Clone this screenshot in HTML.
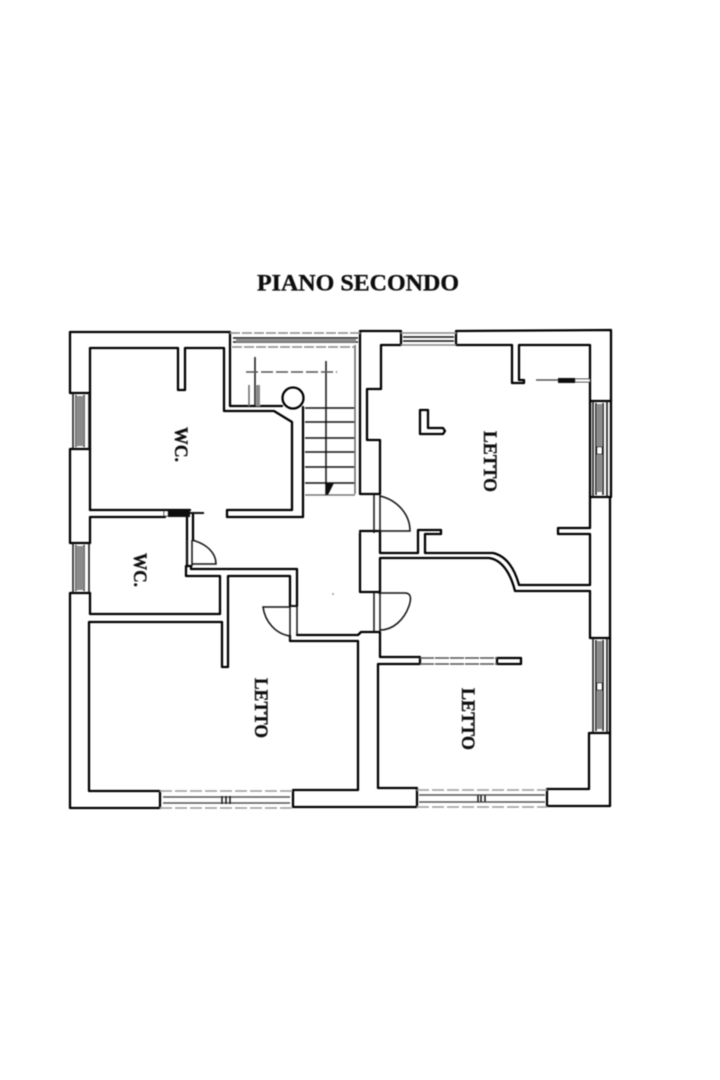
<!DOCTYPE html>
<html><head><meta charset="utf-8"><style>
html,body{margin:0;padding:0;background:#fff}
svg{display:block}
text{font-family:"Liberation Serif",serif;font-weight:bold;fill:#111;stroke:#111;stroke-width:.35}
</style></head><body>
<svg width="720" height="1080" viewBox="0 0 720 1080" xmlns="http://www.w3.org/2000/svg">
<defs><filter id="b" filterUnits="userSpaceOnUse" x="0" y="0" width="720" height="1080"><feGaussianBlur stdDeviation="0.45"/></filter></defs>
<rect width="720" height="1080" fill="#fff"/>
<g filter="url(#b)">
<text x="257" y="290.5" font-size="23" textLength="202" lengthAdjust="spacingAndGlyphs">PIANO SECONDO</text>
<text transform="translate(175,427) rotate(90)" font-size="19" textLength="35" lengthAdjust="spacingAndGlyphs">WC.</text>
<text transform="translate(134,553) rotate(90)" font-size="19" textLength="34" lengthAdjust="spacingAndGlyphs">WC.</text>
<text transform="translate(484,431) rotate(90)" font-size="19" textLength="61" lengthAdjust="spacingAndGlyphs">LETTO</text>
<text transform="translate(255,678) rotate(90)" font-size="19" textLength="60" lengthAdjust="spacingAndGlyphs">LETTO</text>
<text transform="translate(462,688) rotate(90)" font-size="19" textLength="62" lengthAdjust="spacingAndGlyphs">LETTO</text>

<g fill="none" stroke="#000" stroke-width="2.3" stroke-linejoin="round" stroke-linecap="round">
<path d="M90 393H70V332H230V406H282"/>
<path d="M90 449H70V543H90"/>
<path d="M90 593H70V808H160V791H89V622H222V667H228V576H290V606"/>
<path d="M90 510V348H178V390H185V348H224V411H274L292 422V510H227V517H303V407"/>
<circle cx="293" cy="398" r="10.5"/>
<path d="M90 510H190"/>
<path d="M90 543V517H165"/>
<path d="M187 513V566"/>
<path d="M193 513V540"/>
<path d="M90 593V614H220V576H186V566H191V569H297V606"/>
<path d="M297 635H358L361 632H380V657H420V664H378V788H417V807H293V790H358V641H290V636"/>
<path d="M360 533V592H380V558H489C503 560 511 575 515 591H590V638H610V497H590V528H558V534H590V585H519C515 570 507 556 493 553H425V534H441V530H418V553H380V531H360"/>
<path d="M380 494H360V331H401V345H381V389H367V440H380V494"/>
<path d="M590 497V401H611V330L456 331V345H512V383H524V380H519V345H590V401"/>
<path d="M611 401V497"/>
<path d="M420 410H428V428H443L445 431L443 434H420Z"/>
<path d="M590 733H610V806H547V789H589V733"/>
<path d="M610 638V733"/>
<path d="M497 658H521V664H497Z"/>
</g>

<g fill="none" stroke="#111" stroke-width="1.5">
<path d="M192 540C207 544 216 553 216 564H192"/>
<path d="M290 607H263C265 622 276 634 290 636"/>
<path d="M380 496C397 500 410 514 410 531H378"/>
<path d="M378 593H405C412 593 411 600 409 606C404 620 393 630 380 630"/>
<path d="M187 540V566M192 540V566"/>
<path d="M290 606V640M297 606V635"/>
<path d="M374 494V533M380 494V531"/>
<path d="M374 592V632M380 592V632"/>
<path d="M420 658H497M420 664H497" stroke-dasharray="14 1" stroke="#555"/>
<path d="M305 408H355M305 422H355M305 438H355M305 452H355M305 467H355M305 483H355"/>
<path d="M305 495H355" stroke="#777"/>
<path d="M326 361V495"/>
<path d="M255 357V406"/>
<path d="M246 372H337" stroke-dasharray="12 3" stroke="#555"/>
<path d="M249 385V406" stroke="#666"/>
<path d="M355 345V494" stroke="#666"/>
<path d="M536 380H558" stroke="#555"/>
<path d="M190 513H204" stroke-width="2"/>
<path d="M230 333H360M232 347H356" stroke="#888" stroke-dasharray="10 2"/>
<path d="M233 338H358M233 342H358"/>
<path d="M401 333H456M401 345H456" stroke="#888"/>
<path d="M403 337H454M403 341H454"/>
<path d="M160 791H293M160 808H293" stroke="#999" stroke-dasharray="12 3"/>
<path d="M163 797H290M163 803H290" stroke="#555"/>
<path d="M222 796V804M226 796V804M230 796V804"/>
<path d="M417 790H547M417 807H547" stroke="#999" stroke-dasharray="12 3"/>
<path d="M419 795H545M419 802H545" stroke="#555"/>
<path d="M478 795V802M481 795V802M485 795V802"/>
<path d="M73 393V449M89 393V449M76 395V447M84 395V447"/>
<path d="M73 543V593M89 543V593M76 545V591M84 545V591"/>
<path d="M593 401V497M607 401V497M596 403V495M603 403V495"/>
<path d="M593 638V733M607 638V733M596 640V731M603 640V731"/>
</g>

<g fill="#8a8a8a">
<rect x="76" y="396" width="8" height="50"/>
<rect x="76" y="546" width="8" height="44"/>
<rect x="597" y="404" width="5" height="88"/>
<rect x="597" y="641" width="5" height="88"/>
<rect x="256" y="385" width="4" height="21"/>
<rect x="236" y="339" width="120" height="3"/>
</g>
<g fill="#111">
<rect x="168" y="510" width="22" height="7"/>
<rect x="558" y="378" width="17" height="5"/>
<rect x="290" y="605" width="7" height="2"/>
<polygon points="326,483 334,483 328,495 326,495"/>
</g>
<g fill="#fff" stroke="#222" stroke-width="1">
<rect x="164" y="511" width="4" height="5"/>
<rect x="575" y="379" width="15" height="3"/>
<rect x="597" y="447" width="5" height="7"/>
<rect x="597" y="683" width="5" height="7"/>
</g>
<circle cx="333" cy="594" r="1" fill="#999"/>
</g>
</svg>
</body></html>
